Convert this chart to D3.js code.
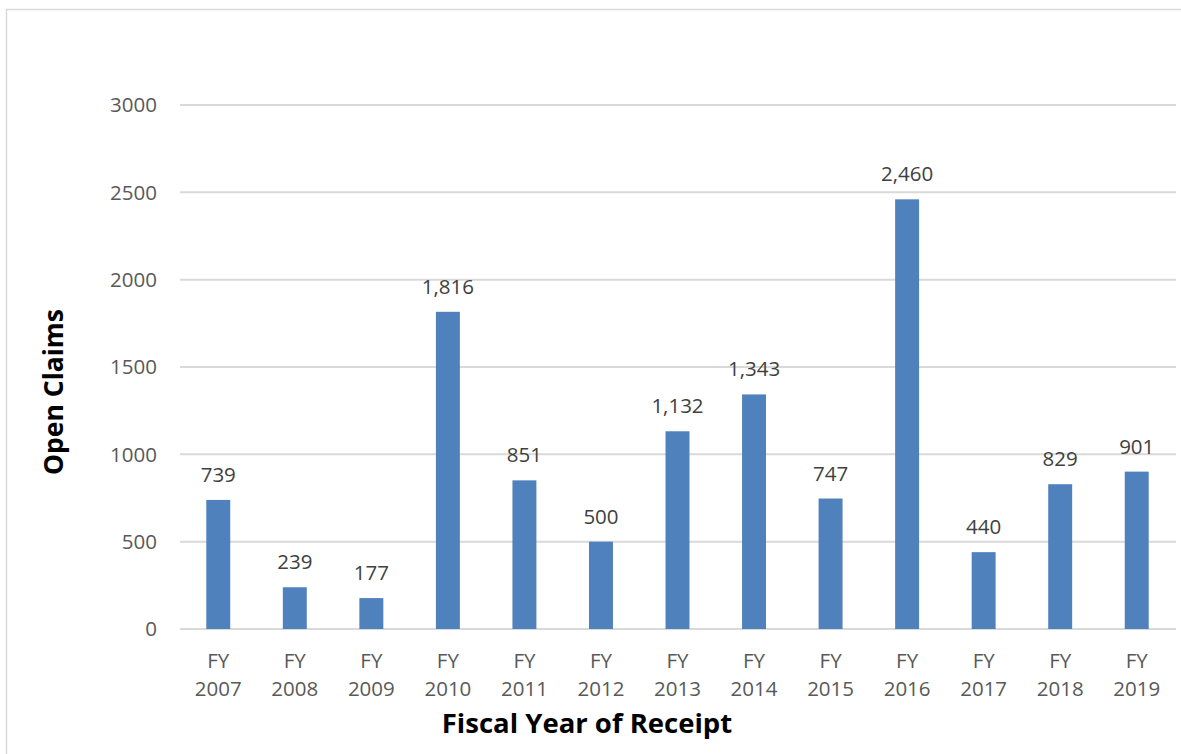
<!DOCTYPE html>
<html><head><meta charset="utf-8">
<script src="https://cdn.jsdelivr.net/npm/d3@7"></script>
<style>body{margin:0;background:#fff}svg{display:block}</style>
</head><body>
<svg id="c" width="1181" height="754"></svg>
<script>
const categories = ["2007","2008","2009","2010","2011","2012","2013","2014","2015","2016","2017","2018","2019"];
const values = [739,239,177,1816,851,500,1132,1343,747,2460,440,829,901];
const yTicks = [0,500,1000,1500,2000,2500,3000];
const yTitle = "Open Claims";
const xTitle = "Fiscal Year of Receipt";

const svg = d3.select("#c");
const font = "'Open Sans', sans-serif";
svg.append("rect").attr("x",6.5).attr("y",9.5).attr("width",1190).attr("height",760)
  .attr("fill","#fff").attr("stroke","#d9d9d9").attr("stroke-width",1.5);

const x = d3.scaleBand().domain(categories).range([180,1175]).paddingInner(0.687).paddingOuter(0.3435);
const y = d3.scaleLinear().domain([0,3000]).range([629,105]);

svg.append("g").selectAll("line").data(yTicks).join("line")
  .attr("x1",180).attr("x2",1176).attr("y1",d=>y(d)).attr("y2",d=>y(d))
  .attr("stroke","#d9d9d9").attr("stroke-width",2);

svg.append("g").selectAll("text").data(yTicks).join("text")
  .attr("x",157).attr("y",d=>y(d)).attr("dy","0.36em").attr("text-anchor","end")
  .attr("font-family",font).attr("font-size",20.5).attr("fill","#595959").text(d=>d);

svg.append("g").selectAll("rect").data(values).join("rect")
  .attr("x",(d,i)=>x(categories[i])).attr("width",x.bandwidth())
  .attr("y",d=>y(d)).attr("height",d=>y(0)-y(d)).attr("fill","#4f81bd");

svg.append("g").selectAll("text").data(values).join("text")
  .attr("x",(d,i)=>x(categories[i])+x.bandwidth()/2).attr("y",d=>y(d)-18)
  .attr("text-anchor","middle").attr("font-family",font).attr("font-size",20.5).attr("fill","#404040")
  .text(d=>d3.format(",")(d));

const xl = svg.append("g").selectAll("text").data(categories).join("text")
  .attr("text-anchor","middle").attr("font-family",font).attr("font-size",20.5).attr("fill","#595959");
xl.append("tspan").attr("x",d=>x(d)+x.bandwidth()/2).attr("y",668).text("FY");
xl.append("tspan").attr("x",d=>x(d)+x.bandwidth()/2).attr("y",696).text(d=>d);

svg.append("text").attr("x",587).attr("y",733).attr("text-anchor","middle")
  .attr("font-family",font).attr("font-weight","bold").attr("font-size",27.5).attr("fill","#000").text(xTitle);
svg.append("text").attr("transform","translate(63,392) rotate(-90)").attr("text-anchor","middle")
  .attr("font-family",font).attr("font-weight","bold").attr("font-size",26.5).attr("fill","#000").text(yTitle);
</script>
</body></html>
